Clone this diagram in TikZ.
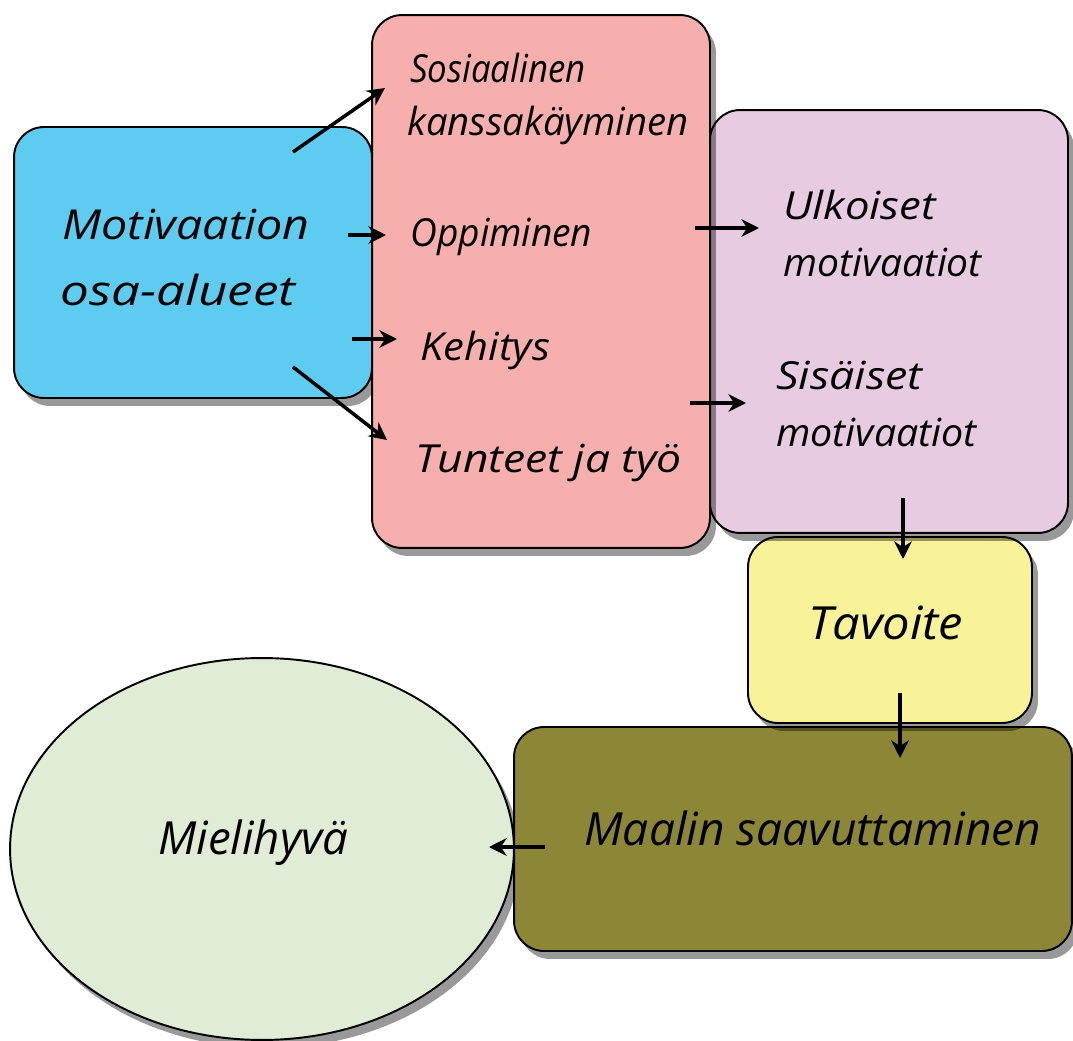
\documentclass[tikz,border=0pt]{standalone}
\usepackage{fontspec}
\usepackage{graphicx}
\setmainfont{Open Sans}
\usetikzlibrary{arrows.meta,shadows,shapes.geometric}
\definecolor{cblue}{HTML}{5ECBF1}
\definecolor{cpink}{HTML}{F6AFAC}
\definecolor{clilac}{HTML}{E7CBE1}
\definecolor{cyellow}{HTML}{F8F298}
\definecolor{colive}{HTML}{8C8736}
\definecolor{cgreen}{HTML}{E0ECD6}
\newcommand\hstretch[2]{\scalebox{#1}[1]{#2}}
\tikzset{
  shad/.style={drop shadow={shadow xshift=0.12cm,shadow yshift=-0.16cm,opacity=0.4,fill=black}},
  box/.style={draw=black,line width=1.1pt,rounded corners=0.6cm,shad,inner sep=0pt},
  lbl/.style={anchor=west,inner sep=0pt,font=\itshape\fontsize{#1}{#1}\selectfont},
  arr/.style={-{Stealth[length=10pt,width=10pt]},line width=2pt},
}
\begin{document}
\begin{tikzpicture}[x=0.02cm,y=-0.02cm]
\useasboundingbox (0,0) rectangle (1073,1041);
% shapes
\node[box,ellipse,fill=cgreen,minimum width=10.08cm,minimum height=7.64cm] (ell) at (262,849) {};
\node[box,fill=colive,minimum width=11.16cm,minimum height=4.48cm] (olive) at (793,839) {};
\node[box,fill=cyellow,minimum width=5.68cm,minimum height=3.72cm] (yellow) at (890,630) {};
\node[box,fill=clilac,minimum width=7.16cm,minimum height=8.46cm] (lilac) at (889,321.5) {};
\node[box,fill=cblue,minimum width=7.16cm,minimum height=5.42cm] (blue) at (193,262.5) {};
\node[box,fill=cpink,minimum width=6.76cm,minimum height=10.66cm] (pink) at (541,281.5) {};
% labels
\node[lbl=23.5] (t1) at (62,225) {\hstretch{1.13}{Motivaation}};
\node[lbl=23.5] (t2) at (60,290) {\hstretch{1.24}{osa-alueet}};
\node[lbl=22] (s1) at (410,68) {\hstretch{0.90}{Sosiaalinen}};
\node[lbl=22] (s2) at (407,125) {\hstretch{0.99}{kanssakäyminen}};
\node[lbl=22] (op) at (410,237) {\hstretch{0.96}{Oppiminen}};
\node[lbl=22] (ke) at (420,350) {\hstretch{1.08}{Kehitys}};
\node[lbl=22] (tu) at (415,463) {\hstretch{1.15}{Tunteet ja työ}};
\node[lbl=22] (u1) at (783,205) {\hstretch{1.13}{Ulkoiset}};
\node[lbl=22] (u2) at (783,262) {\hstretch{1.01}{motivaatiot}};
\node[lbl=22] (si1) at (776,375) {\hstretch{1.16}{Sisäiset}};
\node[lbl=22] (si2) at (776,432) {\hstretch{1.02}{motivaatiot}};
\node[lbl=26] (ta) at (808,623) {\hstretch{1.07}{Tavoite}};
\node[lbl=26] (ma) at (584,828) {\hstretch{1.01}{Maalin saavuttaminen}};
\node[lbl=26] (mi) at (158,843) {Mielihyvä};
% arrow ends
\coordinate (a1s) at (293,152); \coordinate (a1e) at (385,88);
\coordinate (a2s) at (348,235); \coordinate (a2e) at (386,235);
\coordinate (a3s) at (352,339); \coordinate (a3e) at (397,339);
\coordinate (a4s) at (293,367); \coordinate (a4e) at (387,440);
\coordinate (a5s) at (695,228); \coordinate (a5e) at (759,228);
\coordinate (a6s) at (690,403); \coordinate (a6e) at (746,403);
\coordinate (a7s) at (903,498); \coordinate (a7e) at (903,559);
\coordinate (a8s) at (900,693); \coordinate (a8e) at (900,758);
\coordinate (a9s) at (545,847); \coordinate (a9e) at (489,847);
\foreach \i in {1,...,9} \draw[arr] (a\i s) -- (a\i e);
\end{tikzpicture}
\end{document}
